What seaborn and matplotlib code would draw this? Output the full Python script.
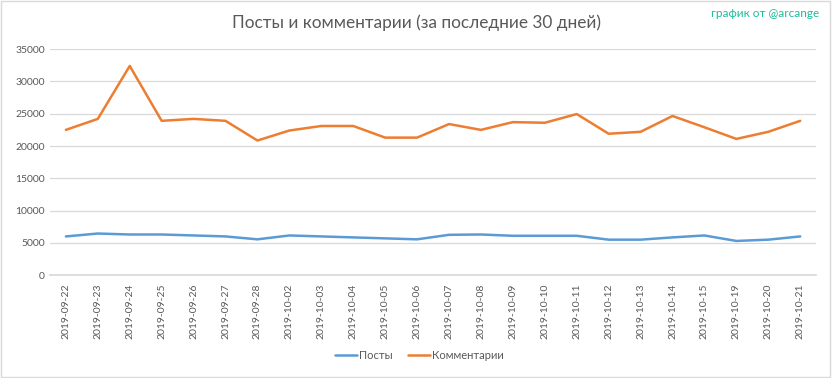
import pandas as pd
import matplotlib.pyplot as plt
import seaborn as sns
from matplotlib.patches import Rectangle

sns.set_theme(style="white")
plt.rcParams['font.family'] = ['Lato', 'Noto Sans', 'DejaVu Sans']

# данные
dates = ['2019-09-22', '2019-09-23', '2019-09-24', '2019-09-25', '2019-09-26',
         '2019-09-27', '2019-09-28', '2019-10-02', '2019-10-03', '2019-10-04',
         '2019-10-05', '2019-10-06', '2019-10-07', '2019-10-08', '2019-10-09',
         '2019-10-10', '2019-10-11', '2019-10-12', '2019-10-13', '2019-10-14',
         '2019-10-15', '2019-10-19', '2019-10-20', '2019-10-21']
posts = [6000, 6450, 6300, 6300, 6150, 6000, 5550, 6150, 6000, 5850, 5700, 5550,
         6250, 6300, 6100, 6100, 6100, 5500, 5500, 5850, 6150, 5300, 5500, 6000]
comments = [22500, 24200, 32400, 23900, 24200, 23900, 20850, 22400, 23100, 23100,
            21300, 21300, 23400, 22500, 23700, 23600, 24950, 21900, 22200, 24650,
            22900, 21100, 22200, 23900]

series_names = ['Посты', 'Комментарии']
colors = ['#5b9bd5', '#ed7d31']

df = pd.DataFrame({
    'date': dates * 2,
    'value': posts + comments,
    'series': [series_names[0]] * len(dates) + [series_names[1]] * len(dates),
})

fig = plt.figure(figsize=(8.32, 3.78), dpi=100)
ax = fig.add_axes([0.060, 0.272, 0.921, 0.598])

sns.lineplot(data=df, x='date', y='value', hue='series', palette=colors,
             linewidth=1.8, sort=False, ax=ax)

ax.set_xlim(-0.5, len(dates) - 0.5)
ax.set_ylim(0, 35000)
ax.set_yticks(range(0, 35001, 5000))
ax.yaxis.grid(True, color='#d9d9d9', linewidth=0.9)
ax.xaxis.grid(False)
for s in ['top', 'right', 'left']:
    ax.spines[s].set_visible(False)
ax.spines['bottom'].set_color('#d9d9d9')
ax.tick_params(axis='both', length=0, labelsize=7.5, colors='#595959')
ax.tick_params(axis='x', pad=6)
plt.setp(ax.get_xticklabels(), rotation=90)
ax.set_xlabel('')
ax.set_ylabel('')

ax.legend(loc='center', bbox_to_anchor=(0.482, -0.355), ncol=2, frameon=False,
          fontsize=8, labelcolor='#595959', handlelength=2.0, handletextpad=0.15,
          columnspacing=1.4)

fig.text(0.5, 0.94, 'Посты и комментарии (за последние 30 дней)', ha='center',
         va='center', fontsize=12.4, color='#595959')
fig.text(0.985, 0.965, 'график от @arcange', ha='right', va='center',
         fontsize=8.5, color='#1abc9c')

fig.patches.append(Rectangle((0.001, 0.002), 0.997, 0.995, transform=fig.transFigure,
                             fill=False, edgecolor='#d9d9d9', linewidth=1))

fig.savefig('out.png', dpi=100)
